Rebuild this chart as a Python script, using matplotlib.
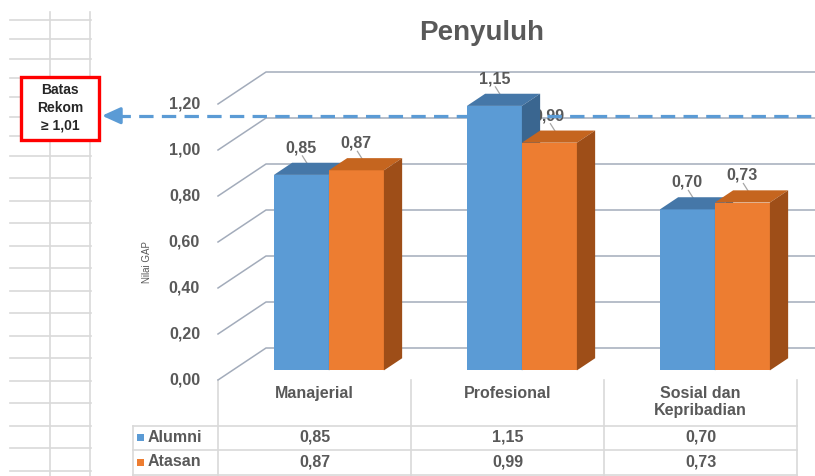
import numpy as np
import matplotlib.pyplot as plt
import matplotlib.transforms as mtransforms
from matplotlib.patches import Polygon, Rectangle
from matplotlib.lines import Line2D

plt.rcParams["font.family"] = ["Liberation Sans", "DejaVu Sans"]

# data
categories = ["Manajerial", "Profesional", "Sosial dan\nKepribadian"]
series_names = ["Alumni", "Atasan"]
alumni = [0.85, 1.15, 0.70]
atasan = [0.87, 0.99, 0.73]
y_ticks = [0.0, 0.2, 0.4, 0.6, 0.8, 1.0, 1.2]
threshold = 1.01

# colours: front, top, side
blue = ("#5B9BD5", "#4577A8", "#3A6690")
orange = ("#ED7D31", "#C5651F", "#9E4E18")
text_col = "#595959"
grid_col = "#A3ACBB"
sheet_col = "#D9D9D9"


def fmt(v):
    return f"{v:.2f}".replace(".", ",")


W, H = 815, 476
fig = plt.figure(figsize=(W / 100, H / 100), dpi=100)


def fx(px):
    return px / W


def fy(py):
    return 1 - py / H


# front plane of the 3D box, 193 px per category, 230 px per unit
PX_X, PX_Y = 193, 230
ax = fig.add_axes([fx(218), fy(380), 3 * PX_X / W, 1.2 * PX_Y / H])
ax.set_xlim(-0.5, 2.5)
ax.set_ylim(0, 1.2)
ax.axis("off")


def dx_of(px):
    return (px - 218) / PX_X - 0.5


# full depth of the box and bar depth
DX, DY = 48 / PX_X, 32 / PX_Y
sx, sy = 0.30 * DX, 0.30 * DY
ddx, ddy = 0.38 * DX, 0.38 * DY
bw = 55 / PX_X
x = np.arange(len(categories))

# back wall gridlines with the slanted side edges
for t in y_ticks:
    ax.plot([-0.5, -0.5 + DX, 2.75], [t, t + DY, t + DY], color=grid_col,
            lw=1.1, clip_on=False, zorder=1)
    ax.text(-0.5 - 18 / PX_X, t, fmt(t), ha="right", va="center",
            fontsize=11.5, fontweight="bold", color=text_col)

fig.text(fx(147), fy(262), "Nilai GAP", rotation=90, fontsize=7,
         color=text_col, ha="center", va="center")

# 3D bars
for vals, offs, cols in [(alumni, -1, blue), (atasan, 0, orange)]:
    left = x + offs * bw + sx
    bars = ax.bar(left, vals, width=bw, bottom=sy, align="edge",
                  color=cols[0], lw=0, zorder=5)
    for b in bars:
        b.set_clip_on(False)
    for xl, v in zip(left, vals):
        top = sy + v
        xr = xl + bw
        ax.add_patch(Polygon([(xl, top), (xr, top), (xr + ddx, top + ddy),
                              (xl + ddx, top + ddy)], closed=True,
                             color=cols[1], lw=0, zorder=5, clip_on=False))
        ax.add_patch(Polygon([(xr, sy), (xr, top), (xr + ddx, top + ddy),
                              (xr + ddx, sy + ddy)], closed=True,
                             color=cols[2], lw=0, zorder=5, clip_on=False))
        # value label with leader line
        xc = xl + bw / 2
        ly = top + 27 / PX_Y
        ax.text(xc, ly, fmt(v), ha="center", va="center", fontsize=11.5,
                fontweight="bold", color=text_col, zorder=2)
        ax.plot([xc + 1 / PX_X, xc + ddx / 2], [ly - 8 / PX_Y, top + ddy / 2],
                color="#A6A6A6", lw=0.9, clip_on=False, zorder=2)

# recommendation threshold on the back wall
ty = threshold + DY
ax.plot([dx_of(116), 2.75], [ty, ty], color="#5B9BD5", lw=2.3,
        dashes=(4.5, 2.6), clip_on=False, zorder=3)
ax.annotate("", xy=(dx_of(102), ty), xytext=(dx_of(120), ty),
            arrowprops=dict(arrowstyle="-|>,head_length=0.55,head_width=0.25",
                            color="#5B9BD5", lw=2.3, mutation_scale=20,
                            shrinkA=0, shrinkB=0),
            annotation_clip=False, zorder=3)

fig.text(fx(482), fy(33), "Penyuluh", ha="center", va="center",
         fontsize=20, fontweight="bold", color=text_col)

# spreadsheet cells on the left
sheet_rows = list(np.linspace(20, 155.5, 8)) + list(np.linspace(155.5, 471, 15))[1:]
for ry in sheet_rows:
    fig.add_artist(Line2D([fx(10), fx(91)], [fy(ry), fy(ry)], color=sheet_col,
                          lw=1.2, zorder=0))
for cx in [50, 90]:
    fig.add_artist(Line2D([fx(cx), fx(cx)], [fy(12), fy(476)], color=sheet_col,
                          lw=1.2, zorder=0))

fig.add_artist(Rectangle((fx(21), fy(140)), fx(99) - fx(21), fy(77) - fy(140),
                         transform=fig.transFigure, facecolor="white",
                         edgecolor="#FF0000", lw=2.4, zorder=10))
fig.text(fx(60), fy(108), "Batas\nRekom\n\u2265 1,01", ha="center", va="center",
         fontsize=10, fontweight="bold", color="#262626", linespacing=1.35,
         zorder=11)

# data table below the chart
trans = mtransforms.blended_transform_factory(ax.transData, fig.transFigure)
for bx in [-0.5, 0.5, 1.5, 2.5]:
    fig.add_artist(Line2D([bx, bx], [fy(380), fy(476)], transform=trans,
                          color=sheet_col, lw=1.2, zorder=0))
fig.add_artist(Line2D([fx(133), fx(133)], [fy(426), fy(476)], color=sheet_col,
                      lw=1.2, zorder=0))
for ry in [426, 450, 475]:
    fig.add_artist(Line2D([fx(133), fx(797)], [fy(ry), fy(ry)], color=sheet_col,
                          lw=1.2, zorder=0))

for i, cat in enumerate(categories):
    fig.text(x[i], fy(386), cat, transform=trans, ha="center", va="top",
             fontsize=11.5, fontweight="bold", color=text_col, linespacing=1.15)

for row_y, name, vals, cols in [(437, series_names[0], alumni, blue),
                                (462, series_names[1], atasan, orange)]:
    fig.add_artist(Rectangle((fx(137), fy(row_y + 3.5)), 7 / W, 7 / H,
                             transform=fig.transFigure, color=cols[0], lw=0))
    fig.text(fx(148), fy(row_y), name, ha="left", va="center", fontsize=11.5,
             fontweight="bold", color=text_col)
    for i, v in enumerate(vals):
        fig.text(x[i], fy(row_y), fmt(v), transform=trans, ha="center",
                 va="center", fontsize=11.5, fontweight="bold", color=text_col)

fig.savefig("out.png", dpi=100)
